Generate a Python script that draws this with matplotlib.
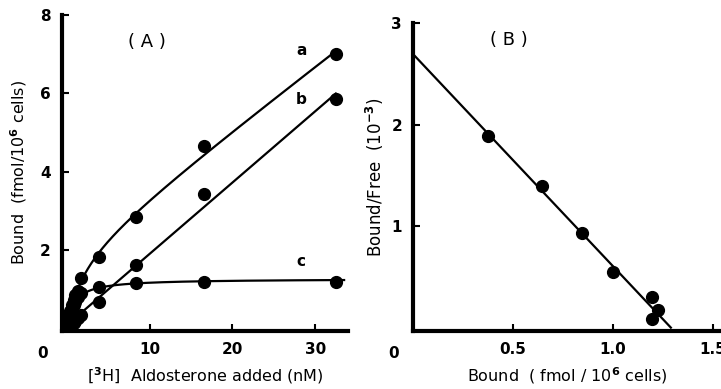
import numpy as np
import matplotlib
matplotlib.use("Agg")
import matplotlib.pyplot as plt

# ---- Panel A data: [3H] aldosterone added (nM) vs bound (fmol/10^6 cells)
conc = [0.1, 0.25, 0.4, 0.6, 0.8, 1.0, 1.3, 1.7, 3.9, 8.4, 16.6, 32.5]
bound_a = [0.15, 0.3, 0.45, 0.6, 0.72, 0.85, 0.95, 1.28, 1.82, 2.85, 4.65, 7.0]
bound_b = [0.03, 0.06, 0.09, 0.12, 0.15, 0.2, 0.26, 0.35, 0.68, 1.62, 3.42, 5.85]
bound_c = [0.12, 0.25, 0.38, 0.5, 0.6, 0.68, 0.8, 0.9, 1.07, 1.17, 1.2, 1.2]

# ---- Panel B data: Scatchard plot
sc_bound = [0.375, 0.645, 0.845, 1.0, 1.195, 1.225, 1.195]
sc_ratio = [1.89, 1.40, 0.93, 0.55, 0.30, 0.17, 0.08]

plt.rcParams['font.family'] = ['DejaVu Sans']
plt.rcParams['font.weight'] = 'bold'
fig = plt.figure(figsize=(7.21, 3.89), dpi=100)

LW_SP = 3.0
TFS = 11


def sat_fit(x, y, extra_linear=False):
    best = None
    for kd in np.linspace(0.1, 30, 600):
        f = x / (kd + x)
        if extra_linear:
            A = np.vstack([f, x]).T
        else:
            A = f[:, None]
        coef, *_ = np.linalg.lstsq(A, y, rcond=None)
        err = np.sum((A @ coef - y) ** 2)
        if best is None or err < best[0]:
            best = (err, kd, coef)
    return best[1], best[2]


# ---------- Panel A ----------
axA = fig.add_axes([0.086, 0.150, 0.397, 0.812])
x = np.array(conc); ya = np.array(bound_a); yb = np.array(bound_b); yc = np.array(bound_c)
xs = np.linspace(0, x.max(), 400)
xs_c = np.linspace(0, x.max() + 1.0, 400)
kda, ca = sat_fit(x, ya, extra_linear=True)
curve_a = ca[0] * xs / (kda + xs) + ca[1] * xs
kdc, cc = sat_fit(x, yc)
curve_c = cc[0] * xs_c / (kdc + xs_c)
sl, ic = np.polyfit(x[7:], yb[7:], 1)
curve_b = np.clip(sl * xs + ic, 0, None)
kw = dict(color='black', lw=1.6)
axA.plot(xs, curve_a, **kw)
axA.plot(xs, curve_b, **kw)
axA.plot(xs_c, curve_c, **kw)
for yy in (ya, yb, yc):
    axA.plot(x, yy, 'o', color='black', ms=8.5)
axA.set_xlim(-0.6, 34)
axA.set_ylim(-0.05, 8)
axA.set_xticks([10, 20, 30])
axA.set_yticks([2, 4, 6, 8])
axA.text(-0.05, -0.05, '0', transform=axA.transAxes, ha='right', va='top', fontsize=TFS)
axA.set_xlabel(r'[$^\mathbf{3}$H]  Aldosterone added (nM)', fontsize=11.5, labelpad=6)
axA.set_ylabel(r'Bound  (fmol/10$^\mathbf{6}$ cells)', fontsize=11.5, labelpad=8)
axA.text(0.23, 0.915, '( A )', transform=axA.transAxes, fontsize=13, va='center',
         fontweight='normal')
axA.text(28.4, 7.1, 'a', fontsize=11, ha='center', va='center')
axA.text(28.3, 5.85, 'b', fontsize=11, ha='center', va='center')
axA.text(28.3, 1.7, 'c', fontsize=11, ha='center', va='center')

# ---------- Panel B ----------
axB = fig.add_axes([0.573, 0.150, 0.427, 0.790])
sb = np.array(sc_bound); sr = np.array(sc_ratio)
m, c0 = np.polyfit(sb, sr, 1)
x_end = -c0 / m
xl = np.linspace(0, x_end, 50)
axB.plot(xl, m * xl + c0, **kw)
axB.plot(sb, sr, 'o', color='black', ms=8.5)
axB.set_xlim(0, 1.54)
axB.set_ylim(-0.03, 3)
axB.set_xticks([0.5, 1.0, 1.5])
axB.set_xticklabels(['0.5', '1.0', '1.5'])
axB.set_yticks([1, 2, 3])
axB.text(-0.045, -0.05, '0', transform=axB.transAxes, ha='right', va='top', fontsize=TFS)
axB.set_xlabel(r'Bound  ( fmol / 10$^\mathbf{6}$ cells)', fontsize=11.5, labelpad=6)
axB.set_ylabel(r'Bound/Free  (10$^\mathbf{-3}$)', fontsize=12, labelpad=4)
axB.text(0.25, 0.945, '( B )', transform=axB.transAxes, fontsize=13, va='center',
         fontweight='normal')

for ax in (axA, axB):
    for s in ('top', 'right'):
        ax.spines[s].set_visible(False)
    for s in ('left', 'bottom'):
        ax.spines[s].set_linewidth(LW_SP)
    ax.tick_params(direction='in', length=5, width=1.5, labelsize=TFS, pad=8)

fig.savefig('out.png', dpi=100)
